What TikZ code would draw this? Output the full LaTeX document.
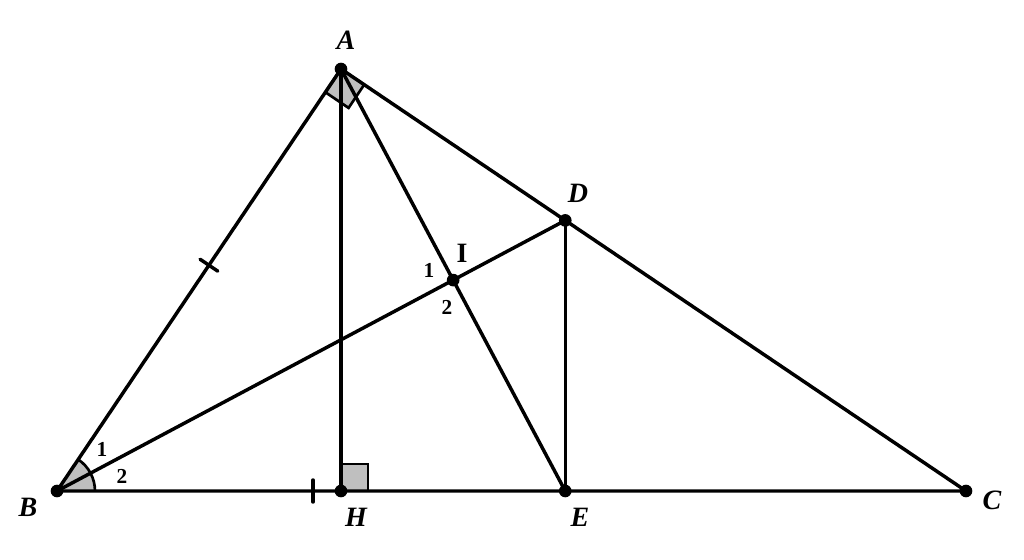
\documentclass[tikz,border=0pt]{standalone}
\usepackage{fontspec}
\setmainfont{Liberation Serif}
\usetikzlibrary{calc,intersections}
\tikzset{
  seg/.style={line width=2.6pt, line cap=round},
  dotpt/.style={fill=black, circle, inner sep=0pt, minimum size=9.5pt},
  ptlabel/.style={font=\fontsize{21}{24}\selectfont\bfseries\itshape},
  numlabel/.style={font=\fontsize{16}{19}\selectfont\bfseries},
  anglemark/.style={fill=gray!50, draw=black, line width=2pt}
}
\begin{document}
\begin{tikzpicture}[x=0.75pt,y=-0.75pt]
\useasboundingbox (0,0) rectangle (1024,560);
\coordinate (A) at (341,69);
\coordinate (B) at (57,491);
\coordinate (C) at (966,491);
\coordinate (D) at ($(A)!0.3588!(C)$);
\coordinate (H) at (341,491);
\coordinate (E) at (D |- B);
\path[name path=bd] (B) -- (D);
\path[name path=ae] (A) -- (E);
\path[name intersections={of=bd and ae, by=I}];
% angle marks
\fill[gray!50] (B) -- ++(28.5pt,0) arc[start angle=0, end angle={atan2(422,284)}, radius=28.5pt] -- cycle;
\draw[line width=2pt] ($(B)+(28.5pt,0)$) arc[start angle=0, end angle={atan2(422,284)}, radius=28.5pt];
\filldraw[anglemark] (H) rectangle ($(H)+(27,-27)$);
\coordinate (ua) at ($(A)!21pt!(B)$);
\coordinate (va) at ($(A)!21pt!(C)$);
\coordinate (wa) at ($(ua)+(va)-(A)$);
\filldraw[anglemark] (A) -- (ua) -- (wa) -- (va) -- cycle;
% segments
\draw[seg] (A) -- (B) -- (C) -- cycle;
\draw[seg] (A) -- (H);
\draw[seg] (A) -- (E);
\draw[seg] (B) -- (D);
\draw[seg] (D) -- (E);
% ticks
\coordinate (tm) at ($(A)!0.465!(B)$);
\draw[seg] ($(tm)!8pt!90:(B)$) -- ($(tm)!8pt!-90:(B)$);
\draw[seg] (313,480) -- (313,502);
% points
\foreach \p in {A,B,C,D,H,E,I} \node[dotpt] (n\p) at (\p) {};
% labels
\node[ptlabel] (lA) at (346,40) {A};
\node[ptlabel] (lB) at (28,507) {B};
\node[ptlabel] (lC) at (992,500) {C};
\node[ptlabel] (lD) at (578,193) {D};
\node[ptlabel] (lE) at (580,517) {E};
\node[ptlabel] (lH) at (356,517) {H};
\node[font=\fontsize{21}{24}\selectfont\bfseries] (lI) at (462,253) {I};
\node[numlabel] (i1) at (429,270) {1};
\node[numlabel] (i2) at (447,307) {2};
\node[numlabel] (b1) at (102,449) {1};
\node[numlabel] (b2) at (122,476) {2};
\end{tikzpicture}
\end{document}
